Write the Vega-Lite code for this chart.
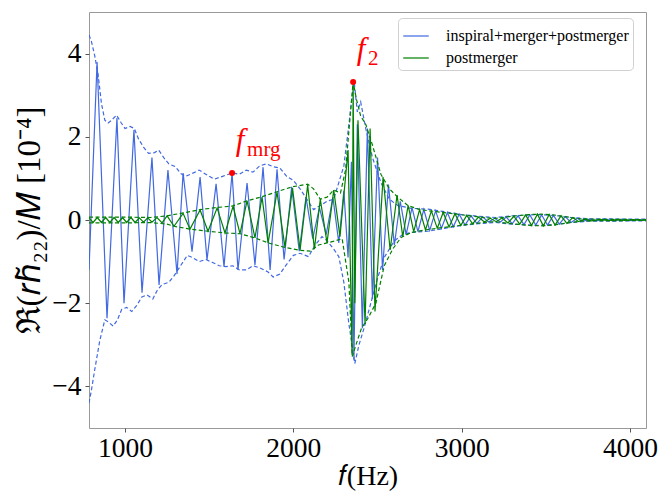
{
"$schema": "https://vega.github.io/schema/vega-lite/v6.json",
"width": 557, "height": 416,
"autosize": {"type": "none"},
"padding": {"left": 89, "top": 12, "right": 14, "bottom": 64},
"background": "white",
"config": {
  "font": "Liberation Serif",
  "view": {"stroke": "#999999", "strokeWidth": 1},
  "text": {"font": "Liberation Serif"},
  "axis": {"grid": false, "domain": false, "tickColor": "#555555", "tickSize": 4, "labelColor": "black", "labelFont": "Liberation Serif", "titleFont": "Liberation Serif", "titleFontWeight": "normal", "titleColor": "black"},
  "legend": {"labelFont": "Liberation Serif", "titleFont": "Liberation Serif"}
},
"datasets": {
  "blue": [
    {"f":786,"v":-1.2},{"f":834,"v":3.8},{"f":893,"v":-2.36},{"f":952,"v":2.45},{"f":994,"v":-2.0},{"f":1053,"v":2.16},{"f":1101,"v":-1.75},{"f":1160,"v":1.5},{"f":1202,"v":-1.56},{"f":1255,"v":1.2},{"f":1309,"v":-1.3},{"f":1345,"v":1.13},{"f":1398,"v":-0.76},{"f":1446,"v":1.03},{"f":1487,"v":-0.96},{"f":1541,"v":0.87},{"f":1588,"v":-1.12},{"f":1636,"v":1.13},{"f":1671,"v":-1.2},{"f":1725,"v":0.89},{"f":1772,"v":-1.08},{"f":1820,"v":1.27},{"f":1862,"v":-1.2},{"f":1903,"v":1.22},{"f":1945,"v":-0.95},{"f":1990,"v":0.8},{"f":2035,"v":-0.75},{"f":2075,"v":0.55},{"f":2115,"v":-0.45},{"f":2155,"v":0.3},{"f":2195,"v":-0.35},{"f":2235,"v":0.55},{"f":2270,"v":-0.55},{"f":2300,"v":0.7},{"f":2325,"v":-0.9},{"f":2345,"v":1.4},{"f":2360,"v":-3.36},{"f":2380,"v":2.3},{"f":2410,"v":-2.6},{"f":2440,"v":2.2},{"f":2470,"v":-1.9},{"f":2500,"v":1.5},{"f":2530,"v":-1.2},{"f":2565,"v":0.85},{"f":2600,"v":-0.6},{"f":2635,"v":0.45},{"f":2670,"v":-0.35},{"f":2705,"v":0.3},{"f":2740,"v":-0.28},{"f":2775,"v":0.25},{"f":2810,"v":-0.25},{"f":2845,"v":0.22},{"f":2880,"v":-0.2},{"f":2915,"v":0.18},{"f":2950,"v":-0.16},{"f":2985,"v":0.14},{"f":3020,"v":-0.12},{"f":3055,"v":0.1},{"f":3090,"v":-0.08},{"f":3125,"v":0.07},{"f":3160,"v":-0.05},{"f":3195,"v":0.04},{"f":3230,"v":-0.05},{"f":3265,"v":0.07},{"f":3300,"v":-0.09},{"f":3335,"v":0.1},{"f":3370,"v":-0.11},{"f":3405,"v":0.12},{"f":3440,"v":-0.12},{"f":3475,"v":0.12},{"f":3510,"v":-0.12},{"f":3545,"v":0.11},{"f":3580,"v":-0.1},{"f":3615,"v":0.08},{"f":3650,"v":-0.06},{"f":3685,"v":0.04},{"f":3720,"v":-0.03},{"f":3760,"v":0.02},{"f":3800,"v":-0.02},{"f":3850,"v":0.02},{"f":3900,"v":-0.02},{"f":3950,"v":0.015},{"f":4000,"v":-0.015},{"f":4050,"v":0.01},{"f":4095,"v":0.0}
  ],
  "green": [
    {"f":786,"v":0.05},{"f":810,"v":-0.06},{"f":835,"v":0.06},{"f":860,"v":-0.06},{"f":885,"v":0.06},{"f":910,"v":-0.06},{"f":935,"v":0.06},{"f":960,"v":-0.06},{"f":985,"v":0.06},{"f":1010,"v":-0.06},{"f":1035,"v":0.06},{"f":1060,"v":-0.06},{"f":1085,"v":0.05},{"f":1110,"v":-0.05},{"f":1135,"v":0.05},{"f":1160,"v":-0.05},{"f":1190,"v":0.06},{"f":1220,"v":-0.07},{"f":1250,"v":0.1},{"f":1291,"v":-0.15},{"f":1345,"v":0.16},{"f":1386,"v":-0.22},{"f":1446,"v":0.24},{"f":1493,"v":-0.27},{"f":1547,"v":0.29},{"f":1594,"v":-0.31},{"f":1642,"v":0.33},{"f":1683,"v":-0.33},{"f":1725,"v":0.46},{"f":1772,"v":-0.43},{"f":1814,"v":0.55},{"f":1850,"v":-0.55},{"f":1903,"v":0.67},{"f":1950,"v":-0.65},{"f":1995,"v":0.77},{"f":2040,"v":-0.72},{"f":2085,"v":0.84},{"f":2125,"v":-0.7},{"f":2160,"v":0.5},{"f":2200,"v":-0.55},{"f":2240,"v":0.72},{"f":2277,"v":-0.4},{"f":2325,"v":1.68},{"f":2349,"v":-3.25},{"f":2355,"v":3.32},{"f":2365,"v":-2.0},{"f":2384,"v":2.4},{"f":2426,"v":-2.5},{"f":2456,"v":2.2},{"f":2485,"v":-2.2},{"f":2533,"v":1.03},{"f":2575,"v":-0.72},{"f":2616,"v":0.6},{"f":2650,"v":-0.4},{"f":2682,"v":0.35},{"f":2715,"v":-0.28},{"f":2750,"v":0.25},{"f":2785,"v":-0.24},{"f":2820,"v":0.22},{"f":2855,"v":-0.2},{"f":2890,"v":0.18},{"f":2925,"v":-0.17},{"f":2960,"v":0.15},{"f":2995,"v":-0.13},{"f":3030,"v":0.11},{"f":3065,"v":-0.09},{"f":3100,"v":0.07},{"f":3135,"v":-0.05},{"f":3170,"v":0.04},{"f":3205,"v":-0.04},{"f":3240,"v":0.05},{"f":3275,"v":-0.07},{"f":3310,"v":0.09},{"f":3345,"v":-0.1},{"f":3380,"v":0.12},{"f":3415,"v":-0.13},{"f":3450,"v":0.14},{"f":3485,"v":-0.14},{"f":3520,"v":0.13},{"f":3555,"v":-0.12},{"f":3590,"v":0.1},{"f":3625,"v":-0.08},{"f":3660,"v":0.06},{"f":3695,"v":-0.04},{"f":3730,"v":0.02},{"f":3770,"v":-0.02},{"f":3820,"v":0.015},{"f":3870,"v":-0.015},{"f":3920,"v":0.01},{"f":3970,"v":-0.01},{"f":4020,"v":0.01},{"f":4070,"v":-0.01},{"f":4095,"v":0.0}
  ],
  "blueEnv": [
    {"side":"u","f":786,"v":4.45},{"side":"u","f":800,"v":4.3},{"side":"u","f":820,"v":3.95},{"side":"u","f":840,"v":3.5},{"side":"u","f":860,"v":2.8},{"side":"u","f":880,"v":2.4},{"side":"u","f":900,"v":2.33},{"side":"u","f":920,"v":2.4},{"side":"u","f":950,"v":2.52},{"side":"u","f":975,"v":2.35},{"side":"u","f":1000,"v":2.2},{"side":"u","f":1030,"v":2.25},{"side":"u","f":1055,"v":2.2},{"side":"u","f":1080,"v":1.95},{"side":"u","f":1110,"v":1.75},{"side":"u","f":1140,"v":1.6},{"side":"u","f":1175,"v":1.62},{"side":"u","f":1200,"v":1.68},{"side":"u","f":1230,"v":1.5},{"side":"u","f":1260,"v":1.35},{"side":"u","f":1300,"v":1.28},{"side":"u","f":1330,"v":1.12},{"side":"u","f":1360,"v":1.05},{"side":"u","f":1400,"v":1.12},{"side":"u","f":1440,"v":1.2},{"side":"u","f":1480,"v":1.1},{"side":"u","f":1530,"v":0.98},{"side":"u","f":1580,"v":1.05},{"side":"u","f":1636,"v":1.13},{"side":"u","f":1680,"v":1.1},{"side":"u","f":1720,"v":1.2},{"side":"u","f":1760,"v":1.15},{"side":"u","f":1800,"v":1.3},{"side":"u","f":1840,"v":1.35},{"side":"u","f":1880,"v":1.28},{"side":"u","f":1920,"v":1.25},{"side":"u","f":1960,"v":1.05},{"side":"u","f":2000,"v":0.95},{"side":"u","f":2040,"v":0.75},{"side":"u","f":2080,"v":0.5},{"side":"u","f":2120,"v":0.25},{"side":"u","f":2160,"v":0.35},{"side":"u","f":2200,"v":0.45},{"side":"u","f":2240,"v":0.5},{"side":"u","f":2270,"v":0.9},{"side":"u","f":2300,"v":1.3},{"side":"u","f":2330,"v":2.3},{"side":"u","f":2360,"v":3.37},{"side":"u","f":2380,"v":2.6},{"side":"u","f":2400,"v":2.84},{"side":"u","f":2430,"v":2.2},{"side":"u","f":2470,"v":1.5},{"side":"u","f":2520,"v":0.9},{"side":"u","f":2570,"v":0.5},{"side":"u","f":2620,"v":0.35},{"side":"u","f":2700,"v":0.28},{"side":"u","f":2800,"v":0.26},{"side":"u","f":2900,"v":0.2},{"side":"u","f":3000,"v":0.13},{"side":"u","f":3100,"v":0.09},{"side":"u","f":3200,"v":0.06},{"side":"u","f":3300,"v":0.1},{"side":"u","f":3450,"v":0.13},{"side":"u","f":3550,"v":0.11},{"side":"u","f":3650,"v":0.06},{"side":"u","f":3750,"v":0.03},{"side":"u","f":4095,"v":0.02},
    {"side":"l","f":786,"v":-4.4},{"side":"l","f":800,"v":-4.1},{"side":"l","f":820,"v":-3.6},{"side":"l","f":850,"v":-2.9},{"side":"l","f":880,"v":-2.4},{"side":"l","f":900,"v":-2.45},{"side":"l","f":930,"v":-2.55},{"side":"l","f":955,"v":-2.4},{"side":"l","f":980,"v":-2.15},{"side":"l","f":1010,"v":-2.1},{"side":"l","f":1040,"v":-2.2},{"side":"l","f":1070,"v":-2.05},{"side":"l","f":1100,"v":-1.85},{"side":"l","f":1130,"v":-1.8},{"side":"l","f":1165,"v":-1.9},{"side":"l","f":1190,"v":-1.7},{"side":"l","f":1220,"v":-1.55},{"side":"l","f":1260,"v":-1.5},{"side":"l","f":1290,"v":-1.35},{"side":"l","f":1330,"v":-1.1},{"side":"l","f":1370,"v":-0.85},{"side":"l","f":1400,"v":-0.9},{"side":"l","f":1440,"v":-1.0},{"side":"l","f":1480,"v":-0.95},{"side":"l","f":1520,"v":-1.02},{"side":"l","f":1560,"v":-1.1},{"side":"l","f":1600,"v":-1.12},{"side":"l","f":1640,"v":-1.1},{"side":"l","f":1680,"v":-1.2},{"side":"l","f":1720,"v":-1.2},{"side":"l","f":1760,"v":-1.1},{"side":"l","f":1800,"v":-1.15},{"side":"l","f":1850,"v":-1.25},{"side":"l","f":1880,"v":-1.37},{"side":"l","f":1920,"v":-1.3},{"side":"l","f":1950,"v":-1.12},{"side":"l","f":2000,"v":-0.85},{"side":"l","f":2040,"v":-0.8},{"side":"l","f":2090,"v":-0.88},{"side":"l","f":2130,"v":-0.6},{"side":"l","f":2170,"v":-0.4},{"side":"l","f":2200,"v":-0.5},{"side":"l","f":2240,"v":-0.7},{"side":"l","f":2270,"v":-0.88},{"side":"l","f":2300,"v":-1.5},{"side":"l","f":2330,"v":-2.5},{"side":"l","f":2365,"v":-3.45},{"side":"l","f":2390,"v":-3.0},{"side":"l","f":2420,"v":-2.6},{"side":"l","f":2460,"v":-2.0},{"side":"l","f":2500,"v":-1.4},{"side":"l","f":2540,"v":-0.9},{"side":"l","f":2600,"v":-0.5},{"side":"l","f":2650,"v":-0.35},{"side":"l","f":2700,"v":-0.3},{"side":"l","f":2800,"v":-0.27},{"side":"l","f":2900,"v":-0.2},{"side":"l","f":3000,"v":-0.13},{"side":"l","f":3100,"v":-0.09},{"side":"l","f":3200,"v":-0.06},{"side":"l","f":3300,"v":-0.1},{"side":"l","f":3450,"v":-0.13},{"side":"l","f":3550,"v":-0.11},{"side":"l","f":3650,"v":-0.06},{"side":"l","f":3750,"v":-0.03},{"side":"l","f":4095,"v":-0.02}
  ],
  "greenEnv": [
    {"side":"u","f":786,"v":0.07},{"side":"u","f":1000,"v":0.07},{"side":"u","f":1150,"v":0.06},{"side":"u","f":1250,"v":0.1},{"side":"u","f":1345,"v":0.17},{"side":"u","f":1446,"v":0.25},{"side":"u","f":1547,"v":0.3},{"side":"u","f":1642,"v":0.34},{"side":"u","f":1725,"v":0.46},{"side":"u","f":1814,"v":0.56},{"side":"u","f":1903,"v":0.68},{"side":"u","f":1995,"v":0.8},{"side":"u","f":2085,"v":0.86},{"side":"u","f":2120,"v":0.75},{"side":"u","f":2160,"v":0.5},{"side":"u","f":2200,"v":0.55},{"side":"u","f":2240,"v":0.72},{"side":"u","f":2280,"v":0.65},{"side":"u","f":2310,"v":1.2},{"side":"u","f":2355,"v":3.32},{"side":"u","f":2375,"v":2.9},{"side":"u","f":2400,"v":2.5},{"side":"u","f":2430,"v":2.3},{"side":"u","f":2470,"v":1.8},{"side":"u","f":2520,"v":1.1},{"side":"u","f":2570,"v":0.75},{"side":"u","f":2620,"v":0.55},{"side":"u","f":2680,"v":0.35},{"side":"u","f":2750,"v":0.25},{"side":"u","f":2850,"v":0.2},{"side":"u","f":2950,"v":0.15},{"side":"u","f":3050,"v":0.1},{"side":"u","f":3150,"v":0.05},{"side":"u","f":3200,"v":0.04},{"side":"u","f":3300,"v":0.09},{"side":"u","f":3400,"v":0.13},{"side":"u","f":3470,"v":0.14},{"side":"u","f":3550,"v":0.12},{"side":"u","f":3650,"v":0.06},{"side":"u","f":3720,"v":0.02},{"side":"u","f":4095,"v":0.01},
    {"side":"l","f":786,"v":-0.07},{"side":"l","f":1000,"v":-0.07},{"side":"l","f":1150,"v":-0.06},{"side":"l","f":1250,"v":-0.1},{"side":"l","f":1291,"v":-0.15},{"side":"l","f":1386,"v":-0.22},{"side":"l","f":1493,"v":-0.27},{"side":"l","f":1594,"v":-0.31},{"side":"l","f":1683,"v":-0.33},{"side":"l","f":1772,"v":-0.43},{"side":"l","f":1850,"v":-0.55},{"side":"l","f":1950,"v":-0.66},{"side":"l","f":2040,"v":-0.73},{"side":"l","f":2100,"v":-0.75},{"side":"l","f":2150,"v":-0.6},{"side":"l","f":2200,"v":-0.55},{"side":"l","f":2250,"v":-0.5},{"side":"l","f":2290,"v":-0.45},{"side":"l","f":2330,"v":-1.5},{"side":"l","f":2350,"v":-3.28},{"side":"l","f":2372,"v":-3.0},{"side":"l","f":2405,"v":-2.6},{"side":"l","f":2445,"v":-2.35},{"side":"l","f":2490,"v":-2.0},{"side":"l","f":2540,"v":-1.1},{"side":"l","f":2590,"v":-0.7},{"side":"l","f":2640,"v":-0.42},{"side":"l","f":2700,"v":-0.3},{"side":"l","f":2770,"v":-0.25},{"side":"l","f":2850,"v":-0.2},{"side":"l","f":2950,"v":-0.15},{"side":"l","f":3050,"v":-0.1},{"side":"l","f":3150,"v":-0.05},{"side":"l","f":3200,"v":-0.04},{"side":"l","f":3300,"v":-0.09},{"side":"l","f":3400,"v":-0.13},{"side":"l","f":3470,"v":-0.14},{"side":"l","f":3550,"v":-0.12},{"side":"l","f":3650,"v":-0.06},{"side":"l","f":3720,"v":-0.02},{"side":"l","f":4095,"v":-0.01}
  ],
  "marks": [
    {"name":"mrg","f":1636,"v":1.13},
    {"name":"2","f":2355,"v":3.32}
  ]
},
"layer": [
  {
    "data": {"name": "blue"},
    "mark": {"type": "line", "strokeWidth": 1.2, "clip": true},
    "encoding": {
      "x": {"field": "f", "type": "quantitative", "scale": {"domain": [786, 4095], "nice": false, "zero": false},
        "axis": {"values": [1000, 2000, 3000, 4000], "format": "d", "labelFont": "Liberation Serif", "labelFontSize": 27.5, "title": "𝑓(Hz)", "titleFont": "Liberation Serif", "titleFontSize": 28, "labelPadding": 2, "titlePadding": 1}},
      "y": {"field": "v", "type": "quantitative", "scale": {"domain": [-5, 5], "nice": false},
        "axis": {"values": [-4, -2, 0, 2, 4], "labelFont": "Liberation Serif", "labelFontSize": 27.5, "title": "ℜ(𝑟ℎ̃₂₂)/𝑀 [10⁻⁴]", "titleFont": "Liberation Serif", "titleFontSize": 33, "labelPadding": 4, "titlePadding": 5}},
      "color": {"datum": "inspiral+merger+postmerger", "type": "nominal",
        "scale": {"domain": ["inspiral+merger+postmerger", "postmerger"], "range": ["#4169e1", "#008000"]},
        "legend": {"title": null, "orient": "none", "legendX": 309, "legendY": 6, "labelFontSize": 16, "labelFont": "Liberation Serif", "labelLimit": 400, "symbolType": "stroke", "symbolSize": 650, "symbolStrokeWidth": 2, "symbolOpacity": 0.6, "labelOffset": 16, "padding": 4, "rowPadding": 0, "fillColor": "white", "strokeColor": "#d0d0d0", "cornerRadius": 4}}
    }
  },
  {
    "data": {"name": "blueEnv"},
    "mark": {"type": "line", "strokeWidth": 1.2, "strokeDash": [4, 2.5], "color": "#4169e1", "clip": true},
    "encoding": {
      "x": {"field": "f", "type": "quantitative"},
      "y": {"field": "v", "type": "quantitative"},
      "detail": {"field": "side"}
    }
  },
  {
    "data": {"name": "green"},
    "mark": {"type": "line", "strokeWidth": 1.2, "clip": true},
    "encoding": {
      "x": {"field": "f", "type": "quantitative"},
      "y": {"field": "v", "type": "quantitative"},
      "color": {"datum": "postmerger", "type": "nominal"}
    }
  },
  {
    "data": {"name": "greenEnv"},
    "mark": {"type": "line", "strokeWidth": 1.2, "strokeDash": [4, 2.5], "color": "#008000", "clip": true},
    "encoding": {
      "x": {"field": "f", "type": "quantitative"},
      "y": {"field": "v", "type": "quantitative"},
      "detail": {"field": "side"}
    }
  },
  {
    "data": {"name": "marks"},
    "mark": {"type": "point", "filled": true, "color": "#ff0000", "size": 36, "opacity": 1},
    "encoding": {
      "x": {"field": "f", "type": "quantitative"},
      "y": {"field": "v", "type": "quantitative"}
    }
  },
  {
    "data": {"name": "marks"},
    "mark": {"type": "text", "text": "f", "font": "Liberation Serif", "fontStyle": "italic", "fontSize": 31, "color": "#ff0000", "align": "center", "baseline": "alphabetic", "dx": 8, "dy": -23},
    "encoding": {
      "x": {"field": "f", "type": "quantitative"},
      "y": {"field": "v", "type": "quantitative"}
    }
  },
  {
    "data": {"name": "marks"},
    "mark": {"type": "text", "font": "Liberation Serif", "fontSize": 21, "color": "#ff0000", "align": "left", "baseline": "alphabetic", "dx": 15, "dy": -17},
    "encoding": {
      "x": {"field": "f", "type": "quantitative"},
      "y": {"field": "v", "type": "quantitative"},
      "text": {"field": "name"}
    }
  }
]
}
